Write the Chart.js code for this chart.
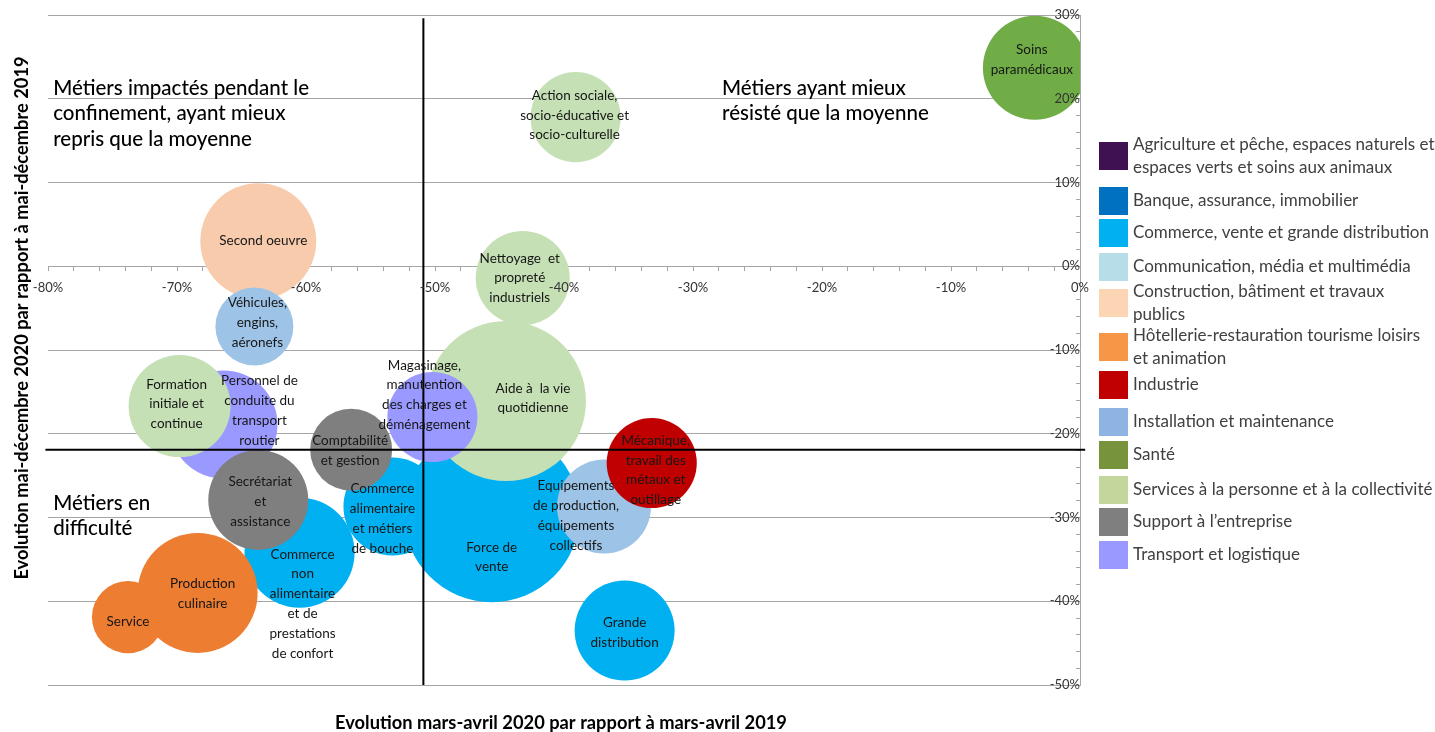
<!DOCTYPE html>
<html><head><meta charset="utf-8">
<script src="https://cdn.jsdelivr.net/npm/chart.js@4.4.1/dist/chart.umd.min.js"></script>
<style>html,body{margin:0;padding:0;background:#fff;overflow:hidden}canvas{display:block}</style>
</head><body>
<canvas id="c" width="1435" height="732"></canvas>
<script>
// ---------------- DATA ----------------
const legendCategories = [
  'Agriculture et pêche, espaces naturels et\nespaces verts et soins aux animaux',
  'Banque, assurance, immobilier',
  'Commerce, vente et grande distribution',
  'Communication, média et multimédia',
  'Construction, bâtiment et travaux\npublics',
  'Hôtellerie-restauration tourisme loisirs\net animation',
  'Industrie',
  'Installation et maintenance',
  'Santé',
  'Services à la personne et à la collectivité',
  'Support à l’entreprise',
  'Transport et logistique'
];

// métiers (drawing order: first drawn first)
const metiers = [
  'Force de\nvente',
  'Commerce\nalimentaire\net métiers\nde bouche',
  'Commerce\nnon\nalimentaire\net de\nprestations\nde confort',
  'Grande\ndistribution',
  'Service',
  'Production\nculinaire',
  'Personnel de\nconduite du\ntransport\nroutier',
  'Formation\ninitiale et\ncontinue',
  'Secrétariat\net\nassistance',
  'Comptabilité\net gestion',
  'Aide à  la vie\nquotidienne',
  'Magasinage,\nmanutention\ndes charges et\ndéménagement',
  'Equipements\nde production,\néquipements\ncollectifs',
  'Mécanique,\ntravail des\nmétaux et\noutillage',
  'Second oeuvre',
  'Véhicules,\nengins,\naéronefs',
  'Nettoyage  et\npropreté\nindustriels',
  'Action sociale,\nsocio-éducative et\nsocio-culturelle',
  'Soins\nparamédicaux'
];
const metierCategory = [2, 2, 2, 2, 5, 5, 11, 9, 10, 10, 9, 11, 7, 6, 4, 7, 9, 9, 8];
const evolMarsAvril = [-45.6, -53.3, -60.5, -35.3, -73.8, -68.4, -66.4, -69.8, -63.7, -56.5, -44.5, -50.2, -36.9, -33.2, -63.7, -64.0, -43.2, -39.1, -3.5];
const evolMaiDec    = [-29.6, -28.7, -34.2, -43.5, -41.9, -39.0, -18.9, -16.7, -27.9, -21.9, -16.1, -18.0, -28.7, -23.5, 3.0, -7.2, -1.4, 17.8, 23.7];
const effectifs     = [77.4, 24.0, 30.3, 25.0, 13.0, 36.0, 29.2, 26.0, 25.0, 16.8, 64.0, 20.3, 22.1, 20.3, 33.6, 15.2, 22.1, 20.3, 27.0];

// moyennes (lignes de séparation des quadrants)
const moyenneMarsAvril = -50.9;
const moyenneMaiDec = -21.9;

const xTickValues = [-80, -70, -60, -50, -40, -30, -20, -10, 0];
const yTickValues = [30, 20, 10, 0, -10, -20, -30, -40, -50];

// ---------------- STYLE ----------------
const FONT = 'Lato, "Open Sans", sans-serif';
const legendColors = ['#3F1152','#0070C0','#00B0F0','#B7DEE8','#FCD5B5','#F79646','#C00000','#8DB4E2','#77933C','#C3D69B','#7F7F7F','#9999FF'];
const bubbleColors = ['#3F1152','#0070C0','#00B0F0','#B7DEE8','#F8CBAD','#ED7D31','#C00000','#9DC3E6','#70AD47','#C5E0B4','#7F7F7F','#9999FF'];
const labelOffsets = [[0,43],[-10,12],[3,51],[0,2],[0,4],[5,1],[36,-14],[-3,-2],[2,2],[-1,1],[27,-3],[-8,-22],[-28,9],[4,7],[5,0],[3,-4],[-3,0],[-1,-2],[-3,-8]];
const legendSwatchTops = [142,187,219,253,289,333,371,408,441,476,508,541];
const radiusOf = v => 10 * Math.sqrt(v);

const quadrantTexts = [
  {x: -79.6, y: 21.25, lines: ['Métiers impactés pendant le', 'confinement, ayant mieux', 'repris que la moyenne']},
  {x: -27.75, y: 21.25, lines: ['Métiers ayant mieux', 'résisté que la moyenne']},
  {x: -79.6, y: -28.3, lines: ['Métiers en', 'difficulté']}
];

const bubbleData = metiers.map((m, i) => ({x: evolMarsAvril[i], y: evolMaiDec[i], r: radiusOf(effectifs[i])}));

const overlay = {
  id: 'overlay',
  afterDatasetsDraw(chart) {
    const ctx = chart.ctx;
    const xs = chart.scales.x, ys = chart.scales.y;
    const meta = chart.getDatasetMeta(0);
    ctx.save();
    ctx.font = `13.5px ${FONT}`;
    ctx.fillStyle = '#161616';
    ctx.textAlign = 'center';
    ctx.textBaseline = 'middle';
    const lh = 19.8;
    meta.data.forEach((el, i) => {
      const lines = metiers[i].split('\n');
      const [dx, dy] = labelOffsets[i];
      const y0 = el.y + dy - (lines.length - 1) * lh / 2;
      lines.forEach((l, k) => ctx.fillText(l, el.x + dx, y0 + k * lh));
    });
    ctx.font = `500 20.5px ${FONT}`;
    ctx.fillStyle = '#000';
    ctx.textAlign = 'left';
    quadrantTexts.forEach(q => {
      const px = xs.getPixelForValue(q.x), py = ys.getPixelForValue(q.y);
      q.lines.forEach((l, k) => ctx.fillText(l, px, py + k * 25.5));
    });
    ctx.restore();
  },
  afterDraw(chart) {
    const ctx = chart.ctx;
    const ca = chart.chartArea;
    ctx.save();
    ctx.fillStyle = '#000';
    ctx.textAlign = 'center';
    ctx.textBaseline = 'middle';
    ctx.font = `bold 18.3px ${FONT}`;
    ctx.fillText('Evolution mars-avril 2020 par rapport à mars-avril 2019', (ca.left + ca.right) / 2 - 3, 723);
    ctx.save();
    ctx.translate(22, 318);
    ctx.rotate(-Math.PI / 2);
    ctx.font = `bold 18.3px ${FONT}`;
    ctx.fillText('Evolution mai-décembre 2020 par rapport à mai-décembre 2019', 0, 0);
    ctx.restore();
    ctx.textAlign = 'left';
    ctx.font = `17px ${FONT}`;
    legendCategories.forEach((c, i) => {
      const top = legendSwatchTops[i];
      ctx.fillStyle = legendColors[i];
      ctx.fillRect(1099, top, 29, 28);
      ctx.fillStyle = '#404040';
      const lines = c.split('\n');
      const cy = top + 14;
      const lhh = 22.5;
      const y0 = cy - (lines.length - 1) * lhh / 2;
      lines.forEach((l, k) => ctx.fillText(l, 1133, y0 + k * lhh));
    });
    ctx.restore();
  }
};

const tickCb = v => (Math.round(v) % 10 === 0 ? Math.round(v) + '%' : '');
const noSpace = s => { if (s.isHorizontal()) { s.height = 0; } else { s.width = 0; } s.paddingLeft = s.paddingRight = s.paddingTop = s.paddingBottom = 0; };

new Chart(document.getElementById('c'), {
  type: 'bubble',
  data: {
    datasets: [
      {
        type: 'bubble',
        data: bubbleData,
        backgroundColor: metierCategory.map(c => bubbleColors[c]),
        borderWidth: 0,
        hoverBorderWidth: 0,
        hoverRadius: 0,
        order: 2
      },
      {
        type: 'line',
        data: [{x: moyenneMarsAvril, y: 29.6}, {x: moyenneMarsAvril, y: -50}],
        borderColor: '#000', borderWidth: 2, pointRadius: 0, fill: false, clip: false, order: 1
      },
      {
        type: 'line',
        data: [{x: -80.2, y: moyenneMaiDec}, {x: 0.4, y: moyenneMaiDec}],
        borderColor: '#000', borderWidth: 2, pointRadius: 0, fill: false, clip: false, order: 1
      }
    ]
  },
  options: {
    responsive: false,
    animation: false,
    devicePixelRatio: 1,
    layout: {autoPadding: false, padding: {left: 48, right: 355, top: 15, bottom: 47}},
    plugins: {legend: {display: false}, tooltip: {enabled: false}},
    events: [],
    scales: {
      x: {
        type: 'linear', min: -80, max: 0, position: {y: 0},
        afterBuildTicks: s => { s.ticks = []; for (let v = -80; v <= 0; v += 2) s.ticks.push({value: v, major: xTickValues.includes(v)}); },
        afterFit: noSpace,
        ticks: {callback: tickCb, autoSkip: false, maxRotation: 0, color: '#333', font: {family: FONT, size: 13}, padding: 10, z: 1},
        grid: {drawOnChartArea: false, tickLength: 4, tickColor: '#A6A6A6'},
        border: {display: true, color: '#A6A6A6', width: 1}
      },
      y: {
        type: 'linear', min: -50, max: 30, position: {x: 0},
        afterBuildTicks: s => { s.ticks = []; for (let v = -50; v <= 30; v += 2) s.ticks.push({value: v, major: yTickValues.includes(v)}); },
        afterFit: noSpace,
        ticks: {callback: tickCb, autoSkip: false, color: '#333', font: {family: FONT, size: 13}, padding: 8, z: 1},
        grid: {
          color: c => (c.tick && Math.round(c.tick.value) % 10 === 0 ? '#A6A6A6' : 'rgba(0,0,0,0)'),
          tickColor: '#A6A6A6', tickLength: 4, lineWidth: 1
        },
        border: {display: true, color: '#A6A6A6', width: 1}
      }
    }
  },
  plugins: [overlay]
});
</script>
</body></html>
